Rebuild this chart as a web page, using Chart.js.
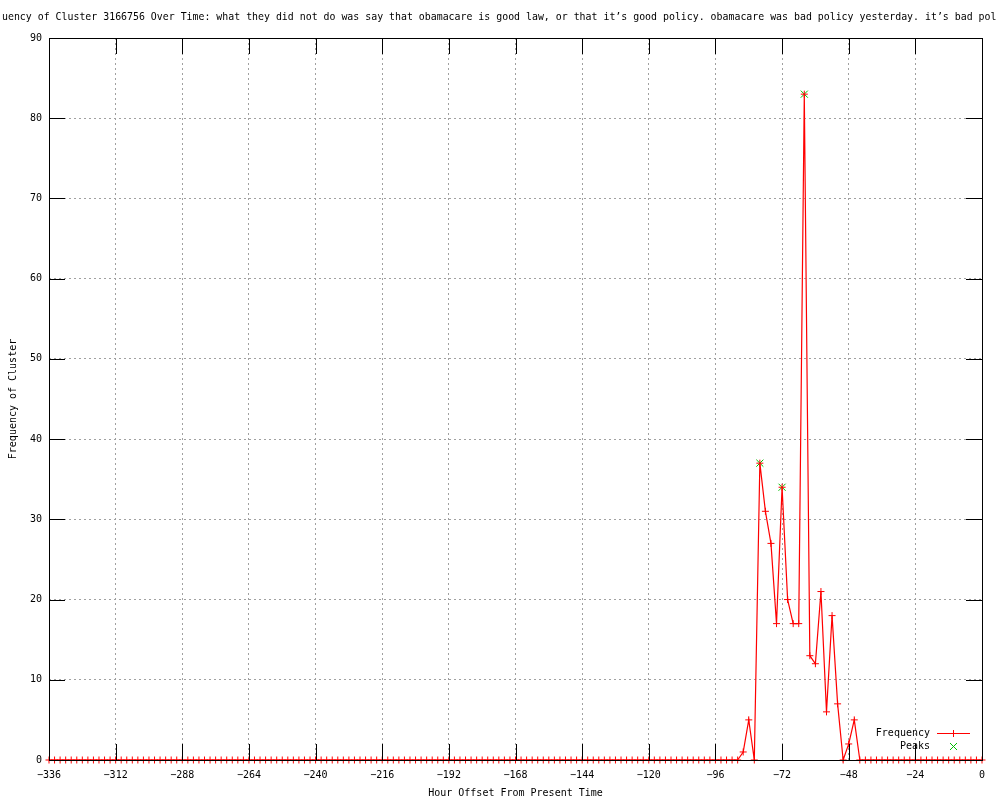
<!DOCTYPE html>
<html>
<head>
<meta charset="utf-8">
<script src="https://cdn.jsdelivr.net/npm/chart.js@4"></script>
<style>
  body { margin: 0; background: #fff; }
  canvas { display: block; }
</style>
</head>
<body>
<canvas id="chart" width="1000" height="800"></canvas>
<script>
// Chart text
const chartTitle = "uency of Cluster 3166756 Over Time: what they did not do was say that obamacare is good law, or that it\u2019s good policy. obamacare was bad policy yesterday. it\u2019s bad pol";
const xTitle = "Hour Offset From Present Time";
const yTitle = "Frequency of Cluster";

// hours (x values), one point every 2 hours
const hours = [
  -336, -334, -332, -330, -328, -326, -324, -322, -320, -318, -316, -314,
  -312, -310, -308, -306, -304, -302, -300, -298, -296, -294, -292, -290,
  -288, -286, -284, -282, -280, -278, -276, -274, -272, -270, -268, -266,
  -264, -262, -260, -258, -256, -254, -252, -250, -248, -246, -244, -242,
  -240, -238, -236, -234, -232, -230, -228, -226, -224, -222, -220, -218,
  -216, -214, -212, -210, -208, -206, -204, -202, -200, -198, -196, -194,
  -192, -190, -188, -186, -184, -182, -180, -178, -176, -174, -172, -170,
  -168, -166, -164, -162, -160, -158, -156, -154, -152, -150, -148, -146,
  -144, -142, -140, -138, -136, -134, -132, -130, -128, -126, -124, -122,
  -120, -118, -116, -114, -112, -110, -108, -106, -104, -102, -100, -98,
  -96, -94, -92, -90, -88, -86, -84, -82, -80, -78, -76, -74,
  -72, -70, -68, -66, -64, -62, -60, -58, -56, -54, -52, -50,
  -48, -46, -44, -42, -40, -38, -36, -34, -32, -30, -28, -26,
  -24, -22, -20, -18, -16, -14, -12, -10, -8, -6, -4, -2,
  0
];

const frequency = [
  0, 0, 0, 0, 0, 0, 0, 0, 0, 0, 0, 0,
  0, 0, 0, 0, 0, 0, 0, 0, 0, 0, 0, 0,
  0, 0, 0, 0, 0, 0, 0, 0, 0, 0, 0, 0,
  0, 0, 0, 0, 0, 0, 0, 0, 0, 0, 0, 0,
  0, 0, 0, 0, 0, 0, 0, 0, 0, 0, 0, 0,
  0, 0, 0, 0, 0, 0, 0, 0, 0, 0, 0, 0,
  0, 0, 0, 0, 0, 0, 0, 0, 0, 0, 0, 0,
  0, 0, 0, 0, 0, 0, 0, 0, 0, 0, 0, 0,
  0, 0, 0, 0, 0, 0, 0, 0, 0, 0, 0, 0,
  0, 0, 0, 0, 0, 0, 0, 0, 0, 0, 0, 0,
  0, 0, 0, 0, 0, 1, 5, 0, 37, 31, 27, 17,
  34, 20, 17, 17, 83, 13, 12, 21, 6, 18, 7, 0,
  2, 5, 0, 0, 0, 0, 0, 0, 0, 0, 0, 0,
  0, 0, 0, 0, 0, 0, 0, 0, 0, 0, 0, 0,
  0
];

const peakHours = [-80, -72, -64];
const peakValues = [37, 34, 83];

// axis ranges and tick steps
const xMin = -336, xMax = 0, xStep = 24;
const yMin = 0, yMax = 90, yStep = 10;

const FONT = '"DejaVu Sans Mono", "Liberation Mono", monospace';
const RED = "#ff0000";
const GREEN = "#00c000";

let freqPoints = hours.map((h, i) => ({ x: h, y: frequency[i] }));
let peakPoints = peakHours.map((h, i) => ({ x: h, y: peakValues[i] }));

// gnuplot style minus sign
function fmtTick(v) {
  return String(v).replace("-", "\u2212");
}

// white background + text + box + inward ticks + legend
const gnuplotLook = {
  id: "gnuplotLook",
  beforeDraw(chart) {
    let ctx = chart.ctx;
    ctx.save();
    ctx.fillStyle = "#fff";
    ctx.fillRect(0, 0, chart.width, chart.height);
    ctx.restore();
  },
  afterDatasetsDraw(chart) {
    let ctx = chart.ctx;
    let a = chart.chartArea;
    let xs = chart.scales.x;
    let ys = chart.scales.y;
    let tl = 16;
    ctx.save();
    ctx.strokeStyle = "#000";
    ctx.lineWidth = 1;
    ctx.beginPath();
    // inward ticks
    xs.ticks.forEach(t => {
      let px = Math.round(xs.getPixelForValue(t.value)) + 0.5;
      ctx.moveTo(px, a.bottom);
      ctx.lineTo(px, a.bottom - tl);
      ctx.moveTo(px, a.top);
      ctx.lineTo(px, a.top + tl);
    });
    ys.ticks.forEach(t => {
      let py = Math.round(ys.getPixelForValue(t.value)) + 0.5;
      ctx.moveTo(a.left, py);
      ctx.lineTo(a.left + tl, py);
      ctx.moveTo(a.right, py);
      ctx.lineTo(a.right - tl, py);
    });
    ctx.stroke();
    // border box
    ctx.strokeRect(Math.round(a.left) + 0.5, Math.round(a.top) + 0.5,
      Math.round(a.right - a.left), Math.round(a.bottom - a.top));
    ctx.restore();
  },
  afterDraw(chart) {
    let ctx = chart.ctx;
    let a = chart.chartArea;
    ctx.save();
    ctx.fillStyle = "#000";

    // title, squeezed to the visible width
    let size = 10;
    ctx.font = size + "px " + FONT;
    let w = ctx.measureText(chartTitle).width;
    if (w > 996) {
      size = size * 996 / w;
      ctx.font = size + "px " + FONT;
    }
    ctx.textAlign = "left";
    ctx.textBaseline = "middle";
    ctx.fillText(chartTitle, 2, 17);

    // axis titles
    ctx.font = "10px " + FONT;
    ctx.textAlign = "center";
    ctx.fillText(xTitle, (a.left + a.right) / 2, 793);
    ctx.save();
    ctx.translate(13, (a.top + a.bottom) / 2);
    ctx.rotate(-Math.PI / 2);
    ctx.fillText(yTitle, 0, 0);
    ctx.restore();

    // legend
    let ds = chart.data.datasets;
    ctx.textAlign = "right";
    ctx.fillText(ds[0].label, 930, 733);
    ctx.fillText(ds[1].label, 930, 746);
    ctx.strokeStyle = RED;
    ctx.lineWidth = 1;
    ctx.beginPath();
    ctx.moveTo(937, 733.5);
    ctx.lineTo(970, 733.5);
    ctx.moveTo(953.5, 730);
    ctx.lineTo(953.5, 737);
    ctx.stroke();
    ctx.strokeStyle = GREEN;
    ctx.beginPath();
    ctx.moveTo(950, 743);
    ctx.lineTo(957, 750);
    ctx.moveTo(957, 743);
    ctx.lineTo(950, 750);
    ctx.stroke();
    ctx.restore();
  }
};

let chart = new Chart(document.getElementById("chart").getContext("2d"), {
  type: "line",
  data: {
    datasets: [
      {
        label: "Frequency",
        data: freqPoints,
        borderColor: RED,
        backgroundColor: RED,
        borderWidth: 1.2,
        tension: 0,
        pointStyle: "cross",
        pointRadius: 3.5,
        pointBorderWidth: 1,
        pointBorderColor: RED,
        clip: false
      },
      {
        label: "Peaks",
        data: peakPoints,
        showLine: false,
        borderColor: GREEN,
        backgroundColor: GREEN,
        pointStyle: "crossRot",
        pointRadius: 5,
        pointBorderWidth: 1,
        pointBorderColor: GREEN,
        clip: false
      }
    ]
  },
  options: {
    responsive: false,
    animation: false,
    devicePixelRatio: 1,
    layout: { padding: { top: 38, right: 18, left: 0, bottom: 0 } },
    plugins: {
      legend: { display: false },
      title: { display: false },
      tooltip: { enabled: false }
    },
    scales: {
      x: {
        type: "linear",
        min: xMin,
        max: xMax,
        afterFit(scale) { scale.height = 40; },
        ticks: {
          stepSize: xStep,
          autoSkip: false,
          maxRotation: 0,
          padding: 9,
          color: "#000",
          font: { family: FONT, size: 10 },
          callback: v => fmtTick(v)
        },
        grid: { color: "#a0a0a0", lineWidth: 1, drawTicks: false },
        border: { display: false, dash: [2, 3] }
      },
      y: {
        min: yMin,
        max: yMax,
        afterFit(scale) { scale.width = 49; },
        ticks: {
          stepSize: yStep,
          padding: 7,
          color: "#000",
          font: { family: FONT, size: 10 },
          callback: v => fmtTick(v)
        },
        grid: { color: "#a0a0a0", lineWidth: 1, drawTicks: false },
        border: { display: false, dash: [2, 3] }
      }
    }
  },
  plugins: [gnuplotLook]
});
</script>
</body>
</html>
